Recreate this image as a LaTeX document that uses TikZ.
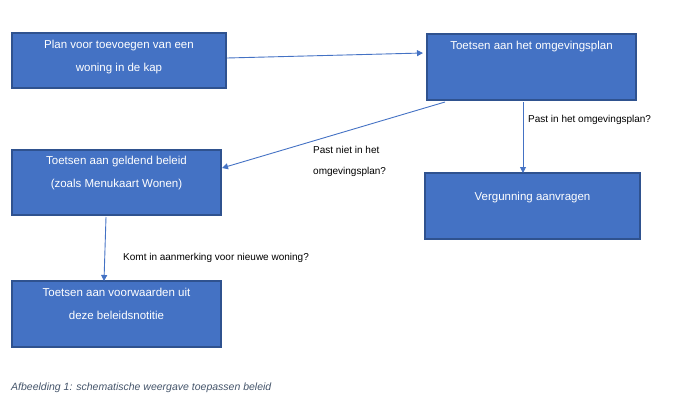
\documentclass[tikz,border=0pt]{standalone}
\usepackage{fontspec}
\setmainfont{Liberation Sans}
\usetikzlibrary{arrows.meta}
\definecolor{boxfill}{HTML}{4472C4}
\definecolor{boxline}{HTML}{2F528F}
\definecolor{capt}{HTML}{44546A}
\begin{document}
\begin{tikzpicture}[x=1pt,y=-1pt,
  box/.style={draw=boxline,line width=1.2pt,fill=boxfill,inner sep=0pt},
  btxt/.style={text=white,font=\fontsize{11.5}{23}\selectfont,align=center,anchor=north},
  lbl/.style={font=\fontsize{10}{21}\selectfont,align=left,anchor=north west,inner sep=0pt},
  arr/.style={draw=boxfill,line width=0.9pt,-{Triangle[length=6pt,width=6pt]}}]
\useasboundingbox (0,0) rectangle (688,407);
\node[box,minimum width=214pt,minimum height=55pt] (b1) at (119,60.5) {};
\node[btxt] (t1) at (119,37) {Plan voor toevoegen van een\\woning in de kap};
\node[box,minimum width=209pt,minimum height=66pt] (b2) at (531.5,67) {};
\node[btxt] (t2) at (531.5,38) {Toetsen aan het omgevingsplan};
\node[box,minimum width=209pt,minimum height=65pt] (b3) at (116.5,182.5) {};
\node[btxt] (t3) at (116.5,153) {Toetsen aan geldend beleid\\(zoals Menukaart Wonen)};
\node[box,minimum width=215pt,minimum height=66pt] (b4) at (532.5,206) {};
\node[btxt] (t4) at (532.5,189) {Vergunning aanvragen};
\node[box,minimum width=209pt,minimum height=66pt] (b5) at (116.5,314) {};
\node[btxt] (t5) at (116.5,285) {Toetsen aan voorwaarden uit\\deze beleidsnotitie};
\coordinate (a1) at (227,58);
\coordinate (a2) at (423,53);
\coordinate (c1) at (445,102);
\coordinate (c2) at (222,168);
\coordinate (d1) at (523,102);
\coordinate (d2) at (523,173);
\coordinate (e1) at (106,217);
\coordinate (e2) at (104,281);
\draw[arr] (a1) -- (a2);
\draw[arr] (c1) -- (c2);
\draw[arr] (d1) -- (d2);
\draw[arr] (e1) -- (e2);
\node[lbl] (l1) at (528,115) {Past in het omgevingsplan?};
\node[lbl] (l2) at (313,146) {Past niet in het\\omgevingsplan?};
\node[lbl] (l3) at (123,253) {Komt in aanmerking voor nieuwe woning?};
\node[anchor=west,inner sep=0pt,text=capt,font=\fontsize{10.5}{12}\selectfont\itshape] (cap) at (11,388) {Afbeelding 1: schematische weergave toepassen beleid};
\end{tikzpicture}
\end{document}
